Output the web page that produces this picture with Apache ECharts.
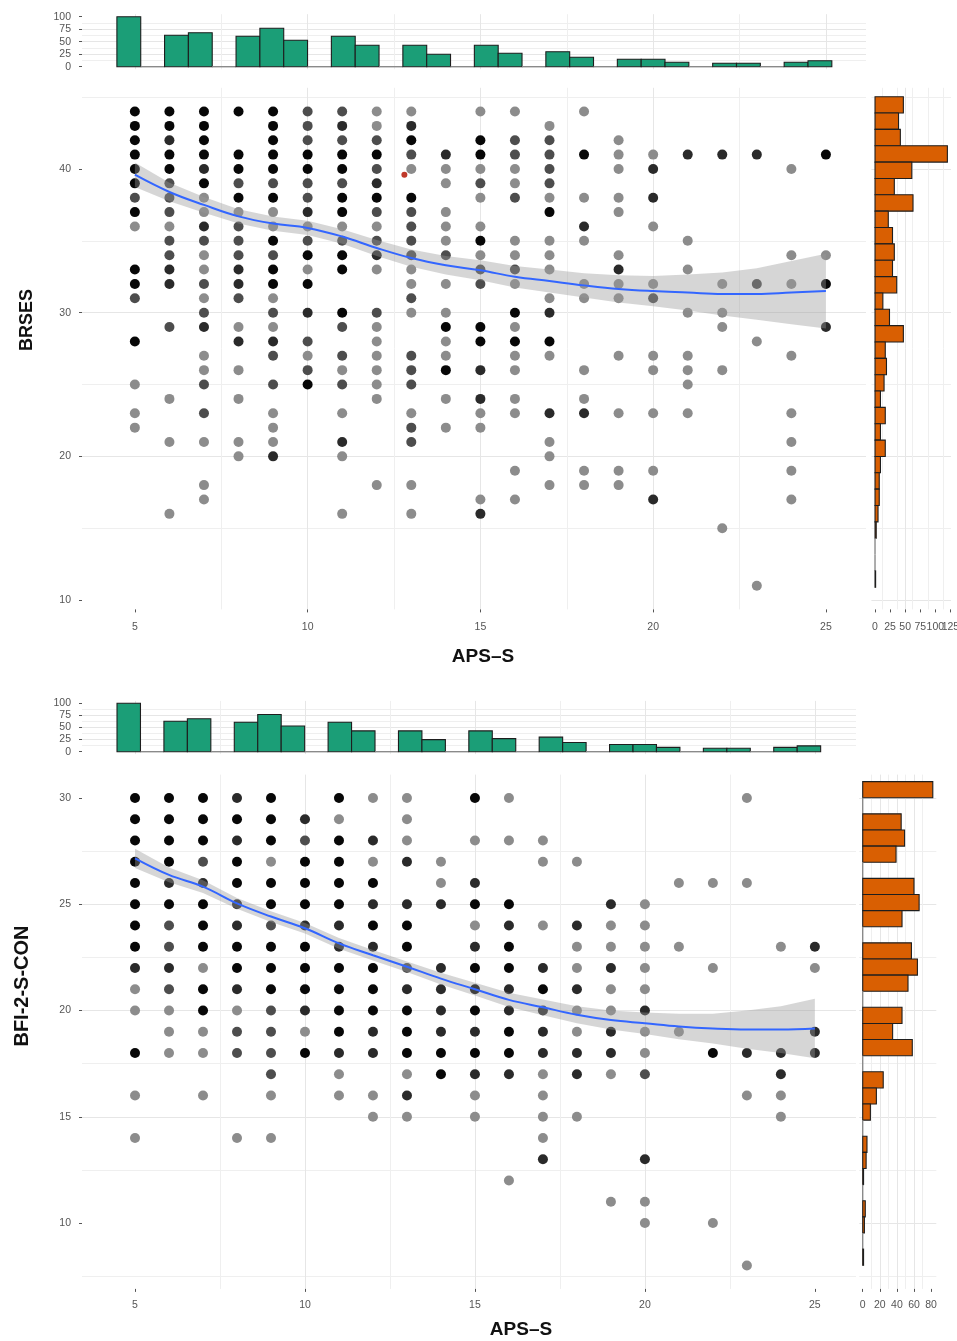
<!DOCTYPE html>
<html><head><meta charset="utf-8">
<script src="https://cdn.jsdelivr.net/npm/echarts@6/dist/echarts.min.js"></script>
<style>html,body{margin:0;padding:0;background:#fff}#c{width:957px;height:1341px}</style>
</head><body><div id="c"></div>
<script>
// ---------- tick labels ----------
const apsTicks = [5, 10, 15, 20, 25];
const brsesTicks = [10, 20, 30, 40];
const bfiTicks = [10, 15, 20, 25, 30];
const countTicks = [0, 25, 50, 75, 100];
const brsesCountTicks = [0, 25, 50, 75, 100, 125];
const bfiCountTicks = [0, 20, 40, 60, 80];

// ---------- marginal histograms (30 bins each) ----------
const apsCounts = [100,0,63,68,0,61,77,53,0,61,43,0,43,25,0,43,27,0,30,19,0,15,15,9,0,7,7,0,9,12];
// listed from the highest bin down to the lowest
const brsesCounts = [47,39,42,120,61,32,63,22,29,32,29,36,13,24,47,17,19,15,9,17,9,17,9,7,7,5,2,0,0,1];
const bfiCounts = [82,0,45,49,39,0,60,66,46,0,57,64,53,0,46,35,58,0,24,16,9,0,5,4,1,0,3,2,0,1];
const apsBinTop = {start: 4.48, width: 0.6897};
const apsBinBottom = {start: 4.47, width: 0.69};
const brsesBin = {top: 45.03, width: 1.138};
const bfiBin = {top: 30.77, width: 0.7586};

// ---------- scatter points [APS-S, score, overlap count] ----------
const brsesPoints = [
 [5,44,6],[5,43,6],[5,42,6],[5,41,6],[5,40,6],[5,39,6],[5,38,2],[5,37,6],[5,36,1],[5,33,6],[5,32,6],[5,31,2],[5,28,6],[5,25,1],[5,23,1],[5,22,1],
 [6,44,6],[6,43,6],[6,42,3],[6,41,6],[6,40,6],[6,39,2],[6,38,2],[6,37,2],[6,36,1],[6,35,2],[6,34,2],[6,33,3],[6,32,3],[6,29,2],[6,24,1],[6,21,1],[6,16,1],
 [7,44,6],[7,43,6],[7,42,6],[7,41,6],[7,40,3],[7,39,6],[7,38,1],[7,37,1],[7,36,3],[7,35,2],[7,34,1],[7,33,1],[7,32,2],[7,31,1],[7,30,2],[7,29,3],[7,27,1],[7,26,1],[7,25,2],[7,23,2],[7,21,1],[7,18,1],[7,17,1],
 [8,44,6],[8,41,6],[8,40,6],[8,39,2],[8,38,6],[8,37,1],[8,36,2],[8,35,2],[8,34,2],[8,33,3],[8,32,3],[8,31,2],[8,29,1],[8,28,3],[8,26,1],[8,24,1],[8,21,1],[8,20,1],
 [9,44,6],[9,43,6],[9,42,6],[9,41,6],[9,40,6],[9,39,2],[9,38,6],[9,37,1],[9,36,1],[9,35,6],[9,34,2],[9,33,6],[9,32,6],[9,31,1],[9,30,2],[9,29,1],[9,28,3],[9,27,2],[9,25,2],[9,23,1],[9,22,1],[9,21,1],[9,20,3],
 [10,44,2],[10,43,2],[10,42,2],[10,41,6],[10,40,6],[10,39,2],[10,38,2],[10,37,3],[10,36,1],[10,35,2],[10,34,6],[10,33,1],[10,32,6],[10,30,3],[10,28,2],[10,27,1],[10,26,2],[10,25,6],
 [11,44,2],[11,43,3],[11,42,2],[11,41,6],[11,40,6],[11,39,2],[11,38,6],[11,37,6],[11,36,1],[11,35,2],[11,34,6],[11,33,6],[11,30,6],[11,29,2],[11,27,2],[11,26,1],[11,25,2],[11,23,1],[11,21,3],[11,20,1],[11,16,1],
 [12,44,1],[12,43,1],[12,42,2],[12,41,6],[12,40,2],[12,39,3],[12,38,6],[12,37,2],[12,36,1],[12,35,2],[12,34,3],[12,33,1],[12,30,2],[12,29,1],[12,28,1],[12,27,1],[12,26,1],[12,25,1],[12,24,1],[12,18,1],
 [13,44,1],[13,43,3],[13,42,6],[13,41,2],[13,40,1],[13,38,6],[13,37,2],[13,36,2],[13,35,2],[13,34,2],[13,33,1],[13,32,1],[13,31,2],[13,30,1],[13,27,2],[13,26,2],[13,25,2],[13,23,1],[13,22,2],[13,21,2],[13,18,1],[13,16,1],
 [14,41,3],[14,40,1],[14,39,1],[14,37,1],[14,36,1],[14,35,1],[14,34,2],[14,32,1],[14,30,1],[14,29,6],[14,28,1],[14,27,1],[14,26,6],[14,24,1],[14,22,1],
 [15,44,1],[15,42,6],[15,41,6],[15,40,1],[15,39,2],[15,38,1],[15,36,1],[15,35,6],[15,34,1],[15,33,2],[15,32,2],[15,29,6],[15,28,6],[15,26,3],[15,24,3],[15,23,1],[15,22,1],[15,17,1],[15,16,3],
 [16,44,1],[16,42,2],[16,41,2],[16,40,1],[16,39,1],[16,38,2],[16,35,1],[16,34,1],[16,33,2],[16,32,1],[16,30,6],[16,29,1],[16,28,6],[16,27,1],[16,26,1],[16,24,1],[16,23,1],[16,19,1],[16,17,1],
 [17,43,1],[17,42,2],[17,41,2],[17,40,2],[17,39,2],[17,38,1],[17,37,6],[17,35,1],[17,34,1],[17,33,1],[17,31,1],[17,30,3],[17,28,6],[17,27,1],[17,23,3],[17,21,1],[17,20,1],[17,18,1],
 [18,44,1],[18,41,6],[18,38,1],[18,36,3],[18,35,1],[18,32,1],[18,31,1],[18,26,1],[18,24,1],[18,23,3],[18,19,1],[18,18,1],
 [19,42,1],[19,41,1],[19,40,1],[19,38,1],[19,37,1],[19,34,1],[19,33,3],[19,32,1],[19,31,1],[19,27,1],[19,23,1],[19,19,1],[19,18,1],
 [20,41,1],[20,40,3],[20,38,3],[20,36,1],[20,32,1],[20,31,2],[20,27,1],[20,26,1],[20,23,1],[20,19,1],[20,17,3],
 [21,41,3],[21,35,1],[21,33,1],[21,30,1],[21,27,1],[21,26,1],[21,25,1],[21,23,1],
 [22,41,3],[22,32,1],[22,30,1],[22,29,1],[22,26,1],[22,15,1],
 [23,41,3],[23,32,2],[23,28,1],[23,11,1],
 [24,40,1],[24,34,1],[24,32,1],[24,27,1],[24,23,1],[24,21,1],[24,19,1],[24,17,1],
 [25,41,6],[25,34,1],[25,32,6],[25,29,3]
];
const brsesOddPoint = [[12.8, 39.6]];

const bfiPoints = [
 [5,30,6],[5,29,6],[5,28,6],[5,27,6],[5,26,6],[5,25,6],[5,24,6],[5,23,6],[5,22,3],[5,21,1],[5,20,1],[5,18,6],[5,16,1],[5,14,1],
 [6,30,6],[6,29,6],[6,28,6],[6,27,6],[6,26,3],[6,25,6],[6,24,2],[6,23,2],[6,22,3],[6,21,2],[6,20,1],[6,19,1],[6,18,1],
 [7,30,6],[7,29,6],[7,28,6],[7,27,2],[7,26,3],[7,25,6],[7,24,6],[7,23,6],[7,22,1],[7,21,6],[7,20,6],[7,19,1],[7,18,1],[7,16,1],
 [8,30,3],[8,29,6],[8,28,3],[8,27,6],[8,26,6],[8,25,3],[8,24,3],[8,23,6],[8,22,6],[8,21,3],[8,20,1],[8,19,2],[8,18,2],[8,14,1],
 [9,30,6],[9,29,6],[9,28,6],[9,27,1],[9,26,6],[9,25,6],[9,24,2],[9,23,6],[9,22,6],[9,21,6],[9,20,2],[9,19,2],[9,18,2],[9,17,2],[9,16,1],[9,14,1],
 [10,29,3],[10,28,2],[10,27,6],[10,26,6],[10,25,6],[10,24,3],[10,23,6],[10,22,6],[10,21,6],[10,20,3],[10,19,1],[10,18,6],
 [11,30,6],[11,29,1],[11,28,6],[11,27,6],[11,26,6],[11,25,6],[11,24,3],[11,23,3],[11,22,6],[11,21,6],[11,20,6],[11,19,6],[11,18,3],[11,17,1],[11,16,1],
 [12,30,1],[12,28,3],[12,27,1],[12,26,6],[12,25,3],[12,24,6],[12,23,3],[12,22,6],[12,21,6],[12,20,6],[12,19,3],[12,18,3],[12,16,1],[12,15,1],
 [13,30,1],[13,29,1],[13,28,1],[13,27,3],[13,25,3],[13,24,6],[13,23,6],[13,22,2],[13,21,3],[13,20,6],[13,19,6],[13,18,6],[13,17,1],[13,16,3],[13,15,1],
 [14,27,1],[14,26,1],[14,25,3],[14,22,3],[14,21,3],[14,20,3],[14,19,3],[14,18,6],[14,17,6],
 [15,30,6],[15,28,1],[15,26,3],[15,25,6],[15,24,1],[15,23,3],[15,22,6],[15,21,6],[15,20,6],[15,19,3],[15,18,6],[15,17,3],[15,16,1],[15,15,1],
 [16,30,1],[16,28,1],[16,25,6],[16,24,3],[16,23,6],[16,22,6],[16,21,3],[16,20,3],[16,19,6],[16,18,6],[16,17,3],[16,12,1],
 [17,28,1],[17,27,1],[17,24,1],[17,22,3],[17,21,6],[17,20,3],[17,19,3],[17,18,3],[17,17,1],[17,16,1],[17,15,1],[17,14,1],[17,13,3],
 [18,27,1],[18,24,3],[18,23,1],[18,22,1],[18,21,3],[18,20,1],[18,19,1],[18,18,3],[18,17,3],[18,15,1],
 [19,25,3],[19,24,1],[19,23,1],[19,22,3],[19,21,1],[19,20,1],[19,19,3],[19,18,3],[19,17,1],[19,11,1],
 [20,25,1],[20,24,1],[20,23,1],[20,22,1],[20,21,1],[20,20,3],[20,19,1],[20,18,1],[20,17,2],[20,13,3],[20,11,1],[20,10,1],
 [21,26,1],[21,23,1],[21,19,1],
 [22,26,1],[22,22,1],[22,18,6],[22,10,1],
 [23,30,1],[23,26,1],[23,18,3],[23,16,1],[23,8,1],
 [24,23,1],[24,18,3],[24,17,3],[24,16,1],[24,15,1],
 [25,23,3],[25,22,1],[25,19,3],[25,18,3]
];

// ---------- loess fits (value and half width of the band) ----------
const fitX = [5,6,7,8,9,10,11,12,13,14,15,16,17,18,19,20,21,22,23,24,25];
const brsesFit = [39.6,38.4,37.5,36.7,36.2,35.9,35.3,34.5,33.8,33.3,32.95,32.5,32.2,31.9,31.65,31.5,31.4,31.3,31.3,31.4,31.5];
const brsesBand = [0.85,0.65,0.55,0.5,0.5,0.5,0.5,0.55,0.6,0.65,0.7,0.75,0.8,0.85,0.95,1.05,1.25,1.5,1.8,2.2,2.6];
const bfiFit = [27.16,26.38,25.83,25.04,24.42,23.87,23.16,22.6,22.06,21.5,21.0,20.5,20.15,19.8,19.55,19.4,19.25,19.15,19.1,19.1,19.15];
const bfiBand = [0.45,0.35,0.3,0.25,0.25,0.25,0.25,0.25,0.25,0.28,0.3,0.33,0.37,0.4,0.45,0.5,0.6,0.7,0.9,1.1,1.4];

// ---------- helpers ----------
const FONT = 'Liberation Sans, Arial, sans-serif';
const GREEN = '#1B9E77', ORANGE = '#D95F02';
const gridMajor = '#e6e6e6', gridMinor = '#efefef';

function ptColor(n) { const g = Math.round(255 * Math.pow(0.55, n)); return 'rgb(' + g + ',' + g + ',' + g + ')'; }

function axis(gridIndex, min, max, step, ticks, margin, noGrid, position) {
  const a = {
    type: 'value', gridIndex, min, max, minInterval: step, maxInterval: step,
    axisLine: {show: false},
    axisTick: ticks ? {show: true, customValues: ticks, length: 3, lineStyle: {color: '#555', width: 1}} : {show: false},
    axisLabel: ticks ? {show: true, customValues: ticks, color: '#555', fontSize: 10.5, fontFamily: FONT, margin: margin,
      showMinLabel: true, showMaxLabel: true, hideOverlap: false} : {show: false},
    splitLine: {show: !noGrid, showMinLine: false, showMaxLine: false, lineStyle: {color: gridMajor, width: 1}},
    minorTick: {show: false, splitNumber: 2},
    minorSplitLine: {show: !noGrid, lineStyle: {color: gridMinor, width: 1}}
  };
  if (position) { a.position = position; a.offset = 0; }
  return a;
}

function vBins(counts, bin) { return counts.map((c, k) => [bin.start + k * bin.width, bin.start + (k + 1) * bin.width, c]); }
function hBins(counts, bin) { return counts.map((c, k) => [bin.top - (k + 1) * bin.width, bin.top - k * bin.width, c]); }

function vHist(xi, yi, data, fill) {
  return {type: 'custom', xAxisIndex: xi, yAxisIndex: yi, data, encode: {x: [0, 1], y: 2}, z: 3,
    renderItem(params, api) {
      const lo = api.value(0), hi = api.value(1), c = api.value(2);
      const a = api.coord([lo, c]), b = api.coord([hi, 0]);
      if (c <= 0) return {type: 'line', shape: {x1: a[0], y1: b[1], x2: b[0], y2: b[1]}, style: {stroke: '#8a8a8a', lineWidth: 1.4}};
      return {type: 'rect', shape: {x: a[0], y: a[1], width: b[0] - a[0], height: b[1] - a[1]}, style: {fill, stroke: '#1e1e1e', lineWidth: 1.1}};
    }};
}
function hHist(xi, yi, data, fill) {
  return {type: 'custom', xAxisIndex: xi, yAxisIndex: yi, data, encode: {y: [0, 1], x: 2}, z: 3,
    renderItem(params, api) {
      const lo = api.value(0), hi = api.value(1), c = api.value(2);
      const a = api.coord([0, hi]), b = api.coord([c, lo]);
      if (c <= 0) return {type: 'line', shape: {x1: a[0], y1: a[1], x2: a[0], y2: b[1]}, style: {stroke: '#8a8a8a', lineWidth: 1.4}};
      return {type: 'rect', shape: {x: a[0], y: a[1], width: b[0] - a[0], height: b[1] - a[1]}, style: {fill, stroke: '#1e1e1e', lineWidth: 1.1}};
    }};
}
function scatter(xi, yi, pts) {
  return {type: 'scatter', xAxisIndex: xi, yAxisIndex: yi, data: pts, symbolSize: 10, z: 2, silent: true,
    itemStyle: {color: p => ptColor(p.data[2]), opacity: 1}};
}
function band(xi, yi, fit, hw) {
  const rows = fitX.map((x, i) => [x, fit[i], hw[i]]);
  return {type: 'custom', xAxisIndex: xi, yAxisIndex: yi, data: rows, encode: {x: 0, y: 1}, z: 4, silent: true,
    renderItem(params, api) {
      if (params.dataIndex !== 0) return null;
      const up = rows.map(r => api.coord([r[0], r[1] + r[2]]));
      const dn = rows.map(r => api.coord([r[0], r[1] - r[2]])).reverse();
      return {type: 'polygon', shape: {points: up.concat(dn)}, style: {fill: 'rgba(153,153,153,0.4)'}};
    }};
}
function fitLine(xi, yi, fit) {
  return {type: 'line', xAxisIndex: xi, yAxisIndex: yi, data: fitX.map((x, i) => [x, fit[i]]), smooth: 0.4,
    showSymbol: false, symbol: 'none', z: 5, silent: true, lineStyle: {color: '#3366FF', width: 2}};
}

const chart = echarts.init(document.getElementById('c'), null, {renderer: 'canvas'});
const G = (left, top, width, height) => ({left, top, width, height, outerBoundsMode: 'none', containLabel: false});
chart.setOption({
  backgroundColor: '#fff',
  animation: false,
  grid: [
    G(82, 14.2, 784, 55),
    G(82, 87.8, 784, 521.6),
    G(871.4, 87.8, 79.6, 521.6),
    G(82, 700.9, 774, 53.2),
    G(82, 774.6, 774, 514.3),
    G(859.2, 774.6, 77.1, 514.3)
  ],
  xAxis: [
    axis(0, 3.47, 26.16, 5, null, 0, false, 'bottom'),
    axis(1, 3.47, 26.16, 5, apsTicks, 12, false, 'bottom'),
    axis(2, -6, 126, 25, brsesCountTicks.filter((v, i) => i % 2 === 0), 12, false, 'bottom'),
    axis(3, 3.44, 26.21, 5, null, 0, false, 'bottom'),
    axis(4, 3.44, 26.21, 5, apsTicks, 11, false, 'bottom'),
    axis(5, -4.1, 86.1, 20, bfiCountTicks, 11, false, 'bottom'),
    axis(2, -6, 126, 25, brsesCountTicks.filter((v, i) => i % 2 === 1), 12, true, 'bottom')
  ],
  yAxis: [
    axis(0, -5, 105, 25, countTicks, 11),
    axis(1, 9.35, 45.65, 10, brsesTicks, 11),
    axis(2, 9.35, 45.65, 10, null),
    axis(3, -5, 105, 25, countTicks, 11),
    axis(4, 6.9, 31.1, 5, bfiTicks, 11),
    axis(5, 6.9, 31.1, 5, null)
  ],
  series: [
    vHist(0, 0, vBins(apsCounts, apsBinTop), GREEN),
    scatter(1, 1, brsesPoints),
    {type: 'scatter', xAxisIndex: 1, yAxisIndex: 1, data: brsesOddPoint, symbolSize: 6, z: 2, itemStyle: {color: '#c0392b', opacity: 1}},
    band(1, 1, brsesFit, brsesBand),
    fitLine(1, 1, brsesFit),
    hHist(2, 2, hBins(brsesCounts, brsesBin), ORANGE),
    vHist(3, 3, vBins(apsCounts, apsBinBottom), GREEN),
    scatter(4, 4, bfiPoints),
    band(4, 4, bfiFit, bfiBand),
    fitLine(4, 4, bfiFit),
    hHist(5, 5, hBins(bfiCounts, bfiBin), ORANGE)
  ],
  graphic: [
    {type: 'text', x: 483, y: 657, style: {text: 'APS–S', font: 'bold 19px ' + FONT, fill: '#111', align: 'center', verticalAlign: 'middle'}},
    {type: 'text', x: 521, y: 1330, style: {text: 'APS–S', font: 'bold 19px ' + FONT, fill: '#111', align: 'center', verticalAlign: 'middle'}},
    {type: 'text', x: 27, y: 320, rotation: Math.PI / 2, style: {text: 'BRSES', font: 'bold 18px ' + FONT, fill: '#111', align: 'center', verticalAlign: 'middle'}},
    {type: 'text', x: 22, y: 986, rotation: Math.PI / 2, style: {text: 'BFI-2-S-CON', font: 'bold 20px ' + FONT, fill: '#111', align: 'center', verticalAlign: 'middle'}}
  ]
});
</script></body></html>
